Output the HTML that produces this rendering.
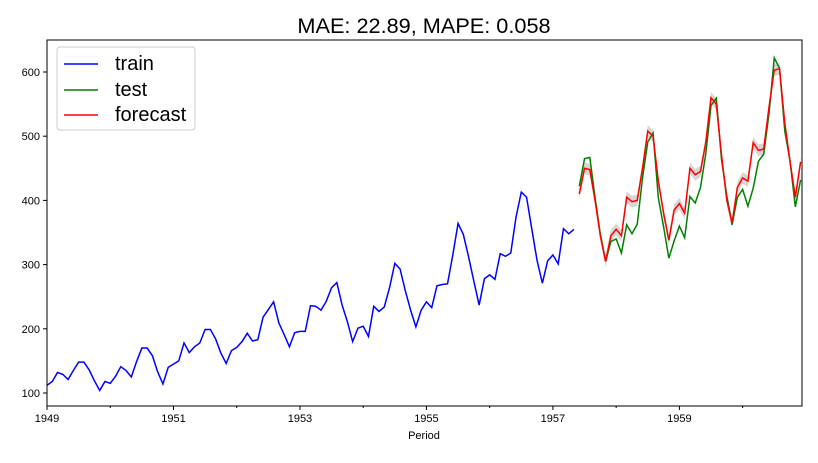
<!DOCTYPE html>
<html><head><meta charset="utf-8"><style>
body{margin:0;background:#fff;}
svg{font-family:"Liberation Sans","DejaVu Sans",sans-serif;}
</style></head><body>
<svg id="s" width="818" height="458" xmlns="http://www.w3.org/2000/svg">
<rect width="818" height="458" fill="#fff"/>
<text x="424" y="33" font-size="21.7" text-anchor="middle" fill="#000">MAE: 22.89, MAPE: 0.058</text>
<g id="g"></g>
<rect x="47" y="40" width="755" height="366" fill="none" stroke="#000" stroke-width="1"/>
<text x="424" y="439" font-size="11" text-anchor="middle">Period</text>
<rect x="57" y="47" width="138" height="83" rx="3" fill="#fff" fill-opacity="0.85" stroke="#ccc"/>
<line x1="64" y1="64" x2="98" y2="64" stroke="#0000ff" stroke-width="1.5"/>
<text x="115" y="70" font-size="20">train</text>
<line x1="64" y1="90" x2="98" y2="90" stroke="#008000" stroke-width="1.5"/>
<text x="115" y="96" font-size="20">test</text>
<line x1="64" y1="115" x2="98" y2="115" stroke="#ff0000" stroke-width="1.5"/>
<text x="115" y="121" font-size="20">forecast</text>
</svg>
<script>
var d=[112,118,132,129,121,135,148,148,136,119,104,118,115,126,141,135,125,149,170,170,158,133,114,140,145,150,178,163,172,178,199,199,184,162,146,166,171,180,193,181,183,218,230,242,209,191,172,194,196,196,236,235,229,243,264,272,237,211,180,201,204,188,235,227,234,264,302,293,259,229,203,229,242,233,267,269,270,315,364,347,312,274,237,278,284,277,317,313,318,374,413,405,355,306,271,306,315,301,356,348,355,422,465,467,404,347,305,336,340,318,362,348,363,435,491,505,404,359,310,337,360,342,406,396,420,472,548,559,463,407,362,405,417,391,419,461,472,535,622,606,508,461,390,432];
var f=[410,450,448,400,345,305,345,355,345,405,398,400,450,508,500,430,380,338,385,395,380,450,440,445,490,560,550,470,400,365,420,435,430,490,478,480,545,603,605,520,460,405,460];
function X(i){return 47+i*5.27;}function Y(v){return 393-(v-100)*0.642;}
var h='';
[100,200,300,400,500,600].forEach(function(v){var y=Y(v);h+='<line x1="43" y1="'+y+'" x2="47" y2="'+y+'" stroke="#000"/><text x="40" y="'+(y+4)+'" font-size="11" text-anchor="end">'+v+'</text>';});
for(var yr=0;yr<12;yr++){var x=X(yr*12);var maj=yr%2==0;h+='<line x1="'+x+'" y1="406" x2="'+x+'" y2="'+(maj?410:408)+'" stroke="#000"/>';if(maj)h+='<text x="'+x+'" y="422" font-size="11" text-anchor="middle">'+(1949+yr)+'</text>';}
var up='',dn='';for(var k=0;k<f.length;k++){up+=X(101+k)+','+Y(f[k]+9)+' ';}for(var k=f.length-1;k>=0;k--){dn+=X(101+k)+','+Y(f[k]-9)+' ';}
h+='<polygon points="'+up+dn+'" fill="#bbb" fill-opacity="0.6"/>';
var p='';for(var i=0;i<=100;i++)p+=X(i)+','+Y(d[i])+' ';
h+='<polyline points="'+p+'" fill="none" stroke="#0000ff" stroke-width="1.5"/>';
p='';for(var i=101;i<144;i++)p+=X(i)+','+Y(d[i])+' ';
h+='<polyline points="'+p+'" fill="none" stroke="#008000" stroke-width="1.5"/>';
p='';for(var k=0;k<f.length;k++)p+=X(101+k)+','+Y(f[k])+' ';
h+='<polyline points="'+p+'" fill="none" stroke="#ff0000" stroke-width="1.5"/>';
document.getElementById('g').innerHTML=h;
</script>
</body></html>
